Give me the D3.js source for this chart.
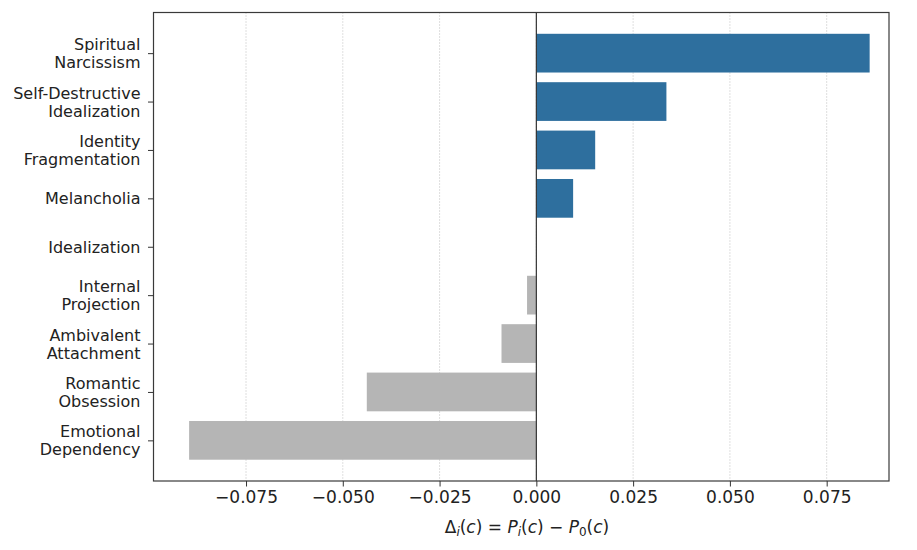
<!DOCTYPE html>
<html><head><meta charset="utf-8">
<script src="https://cdn.jsdelivr.net/npm/d3@7"></script>
<style>body{margin:0;background:#fff}</style>
</head><body>
<svg id="c" width="917" height="550"></svg>
<script>
const categories = ["Spiritual\nNarcissism","Self-Destructive\nIdealization","Identity\nFragmentation","Melancholia","Idealization","Internal\nProjection","Ambivalent\nAttachment","Romantic\nObsession","Emotional\nDependency"];
const values = [0.0861, 0.0336, 0.0152, 0.0095, 0.0, -0.0024, -0.0090, -0.0438, -0.0897];
const xTicks = [-0.075, -0.05, -0.025, 0, 0.025, 0.05, 0.075];

const svg = d3.select("#c");
const L = 153.5, R = 889, T = 12.5, B = 481;
const font = "DejaVu Sans, sans-serif";
const x = d3.scaleLinear().domain([-0.0989, 0.0911]).range([L, R]);
const y = d3.scaleLinear().domain([-0.84, 8.84]).range([T, B]);

// grid
svg.append("g").selectAll("line").data(xTicks).join("line")
  .attr("x1", d => x(d)).attr("x2", d => x(d)).attr("y1", T).attr("y2", B)
  .attr("stroke", "#b0b0b0").attr("stroke-width", 0.8).attr("stroke-dasharray", "1,2");

// bars
svg.append("g").selectAll("rect").data(values).join("rect")
  .attr("x", d => x(Math.min(0, d))).attr("width", d => Math.abs(x(d) - x(0)))
  .attr("y", (d, i) => y(i - 0.4)).attr("height", y(0.4) - y(-0.4))
  .attr("fill", d => d > 0 ? "#2e6f9e" : "#b5b5b5");

// zero line
svg.append("line").attr("x1", x(0)).attr("x2", x(0)).attr("y1", T).attr("y2", B)
  .attr("stroke", "#333").attr("stroke-width", 1.2);

// frame
svg.append("rect").attr("x", L).attr("y", T).attr("width", R - L).attr("height", B - T)
  .attr("fill", "none").attr("stroke", "#3a3a3a").attr("stroke-width", 1.2);

// x axis
const xa = svg.append("g").attr("transform", `translate(0,${B})`)
  .call(d3.axisBottom(x).tickValues(xTicks).tickSize(5.5).tickPadding(4)
    .tickFormat(d => d3.format(".3f")(d).replace("-", "\u2212")));
xa.select(".domain").remove();
xa.selectAll("line").attr("stroke", "#333").attr("stroke-width", 1);
xa.selectAll("text").attr("font-family", font).attr("font-size", 17).attr("fill", "#222");

// y axis
const ya = svg.append("g").attr("transform", `translate(${L},0)`)
  .call(d3.axisLeft(y).tickValues(d3.range(categories.length)).tickSize(5.5).tickFormat(""));
ya.select(".domain").remove();
ya.selectAll("line").attr("stroke", "#333").attr("stroke-width", 1);
ya.selectAll(".tick").each(function(d) {
  const lines = categories[d].split("\n");
  const t = d3.select(this).append("text").attr("font-family", font).attr("font-size", 16)
    .attr("fill", "#222").attr("text-anchor", "end");
  const lh = 18;
  lines.forEach((ln, k) => {
    t.append("tspan").attr("x", -13).attr("y", (k - (lines.length - 1) / 2) * lh).attr("dy", "0.35em").text(ln);
  });
});

// x label
const xl = svg.append("text").attr("x", 527).attr("y", 533).attr("text-anchor", "middle")
  .attr("font-family", font).attr("font-size", 17).attr("fill", "#222");
const sub = 12;
xl.append("tspan").text("\u0394");
xl.append("tspan").attr("font-style", "italic").attr("font-size", sub).attr("dy", 3).text("i");
xl.append("tspan").attr("dy", -3).text("(");
xl.append("tspan").attr("font-style", "italic").text("c");
xl.append("tspan").text(") = ");
xl.append("tspan").attr("font-style", "italic").text("P");
xl.append("tspan").attr("font-style", "italic").attr("font-size", sub).attr("dy", 3).text("i");
xl.append("tspan").attr("dy", -3).text("(");
xl.append("tspan").attr("font-style", "italic").text("c");
xl.append("tspan").text(") \u2212 ");
xl.append("tspan").attr("font-style", "italic").text("P");
xl.append("tspan").attr("font-size", sub).attr("dy", 3).text("0");
xl.append("tspan").attr("dy", -3).text("(");
xl.append("tspan").attr("font-style", "italic").text("c");
xl.append("tspan").text(")");
</script>
</body></html>
